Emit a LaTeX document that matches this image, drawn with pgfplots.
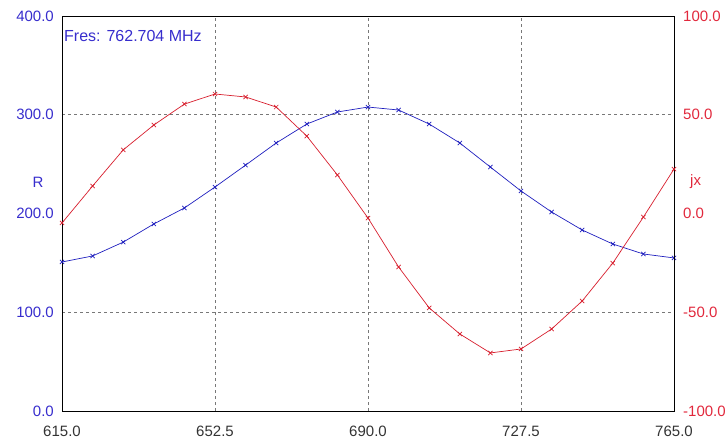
\documentclass[border=0pt]{standalone}
\usepackage{pgfplots}
\pgfplotsset{compat=1.18}
\usepackage{fontspec}
\setmainfont{Liberation Sans}

\definecolor{rblue}{RGB}{30,30,190}
\definecolor{rred}{RGB}{215,30,45}
\definecolor{lblue}{RGB}{55,45,205}
\definecolor{lred}{RGB}{225,40,60}
\definecolor{gridgray}{RGB}{120,120,120}

% R (left axis)
\pgfplotstableread{
f R
615.0 150.9
622.5 157.0
630.0 171.0
637.5 189.4
645.0 205.6
652.5 226.8
660.0 249.0
667.5 271.4
675.0 290.6
682.5 302.8
690.0 307.8
697.5 304.8
705.0 290.6
712.5 271.4
720.0 247.0
727.5 222.8
735.0 201.5
742.5 183.3
750.0 169.1
757.5 159.0
765.0 155.0
}\tblR

% jX (right axis)
\pgfplotstableread{
f X
615.0 -4.8
622.5 13.9
630.0 32.2
637.5 44.8
645.0 55.4
652.5 60.5
660.0 59.0
667.5 53.9
675.0 39.2
682.5 19.5
690.0 -2.3
697.5 -27.1
705.0 -47.8
712.5 -61.0
720.0 -70.6
727.5 -68.6
735.0 -58.5
742.5 -44.3
750.0 -25.1
757.5 -1.8
765.0 22.5
}\tblX

\begin{document}
\fontsize{15bp}{17bp}\selectfont
\begin{tikzpicture}
\pgfplotsset{
  every axis/.append style={
    scale only axis, width=612bp, height=395bp,
    xmin=615, xmax=765,
    major tick length=0pt,
    /pgf/number format/assume math mode=true,
    /pgf/number format/.cd, fixed, fixed zerofill, precision=1,
  },
}
\begin{axis}[
    ymin=0, ymax=400,
    xtick={652.5,690,727.5},
    extra x ticks={615,765},
    extra x tick style={grid=none},
    ytick={100,300},
    extra y ticks={0,200,400},
    extra y tick style={grid=none},
    grid=major,
    major grid style={gridgray, dash pattern=on 3bp off 3bp, line width=0.6pt},
    axis line style={black, line width=0.8pt},
    x tick label style={text=black!80, yshift=-10bp},
    y tick label style={text=lblue, xshift=-3bp},
    ylabel={R}, ylabel style={rotate=-90, text=lblue, at={(axis description cs:-0.022,0.58)}, anchor=east},
  ]
  \addplot[rblue, line width=0.7pt, mark=x, mark size=3pt] table[x=f, y=R] {\tblR};
  \node[anchor=west, text=lblue, inner sep=2bp, font=\fontsize{16bp}{18bp}\selectfont] at (axis description cs:0.0,0.95) {Fres: 762.704 MHz};
\end{axis}
\begin{axis}[
    ymin=-100, ymax=100,
    axis x line=none,
    axis y line*=right,
    ytick={-100,-50,0,50,100},
    axis line style={black, line width=0.8pt},
    y tick label style={text=lred, xshift=4bp},
    ylabel={jx}, ylabel style={rotate=-90, text=lred, at={(axis description cs:1.018,0.58)}, anchor=west},
  ]
  \addplot[rred, line width=0.7pt, mark=x, mark size=3pt] table[x=f, y=X] {\tblX};
\end{axis}
\pgfresetboundingbox
\path (-62bp,-34bp) rectangle (666bp,411bp);
\end{tikzpicture}
\end{document}
